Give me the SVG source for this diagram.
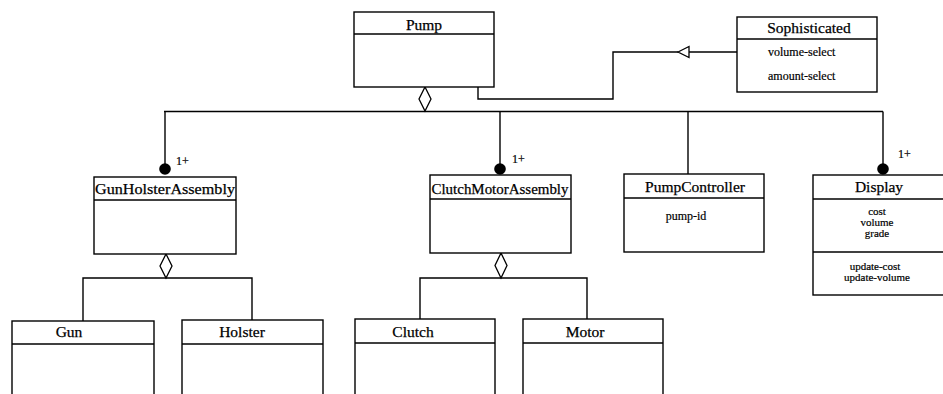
<svg xmlns="http://www.w3.org/2000/svg" width="943" height="394" viewBox="0 0 943 394">
<style>
.box{fill:#fff;stroke:#000;stroke-width:1.4}
.ln{fill:none;stroke:#000;stroke-width:1.4}
.dia{fill:#fff;stroke:#000;stroke-width:1.3}
.dot{fill:#000}
text{font-family:"Liberation Serif","DejaVu Serif","Times New Roman",serif;fill:#000}
.t{font-size:15.5px;stroke:#000;stroke-width:0.25;text-anchor:middle}
.s{font-size:12px;stroke:#000;stroke-width:0.2}
.d{font-size:11px;stroke:#000;stroke-width:0.2;text-anchor:middle}
.m{text-anchor:middle}
</style>
<rect width="943" height="394" fill="#fff"/>
<g id="connectors">
  <line class="ln" x1="164" y1="111.5" x2="883" y2="111.5"/>
  <line class="ln" x1="165" y1="111.5" x2="165" y2="164"/>
  <line class="ln" x1="500" y1="111.5" x2="500" y2="164"/>
  <line class="ln" x1="688" y1="111.5" x2="688" y2="174"/>
  <line class="ln" x1="883" y1="111.5" x2="883" y2="164"/>
  <polygon class="dia" points="425,87 431,99 425,111 419,99"/>
  <circle class="dot" cx="165" cy="169" r="5.8"/>
  <circle class="dot" cx="500" cy="169" r="5.8"/>
  <circle class="dot" cx="883" cy="169" r="5.8"/>
  <text class="s" x="176" y="165">1+</text>
  <text class="s" x="512" y="163">1+</text>
  <text class="s" x="898" y="158">1+</text>
  <polyline class="ln" points="478,87 478,99 613,99 613,52 678,52"/>
  <line class="ln" x1="689" y1="52" x2="737" y2="52"/>
  <polygon class="dia" points="678,52 689,46.5 689,57.5"/>
  <polyline class="ln" points="83,321 83,278 252,278 252,320"/>
  <polygon class="dia" points="166,254 172,266 166,278 160,266"/>
  <polyline class="ln" points="420,319 420,278 587,278 587,319"/>
  <polygon class="dia" points="501,253 507,265.5 501,278 495,265.5"/>
</g>
<g id="pump">
  <rect class="box" x="354" y="12" width="140" height="75"/>
  <line class="ln" x1="354" y1="34" x2="494" y2="34"/>
  <text class="t" x="424" y="30">Pump</text>
</g>
<g id="sophisticated">
  <rect class="box" x="737" y="17" width="140" height="75"/>
  <line class="ln" x1="737" y1="39" x2="877" y2="39"/>
  <text class="t" x="809" y="33">Sophisticated</text>
  <text class="s" x="768" y="56">volume-select</text>
  <text class="s" x="768" y="80">amount-select</text>
</g>
<g id="gunholsterassembly">
  <rect class="box" x="94" y="177" width="142" height="77"/>
  <line class="ln" x1="94" y1="200" x2="236" y2="200"/>
  <text class="t" x="165" y="194" textLength="140" lengthAdjust="spacingAndGlyphs">GunHolsterAssembly</text>
</g>
<g id="clutchmotorassembly">
  <rect class="box" x="430" y="175" width="141" height="78"/>
  <line class="ln" x1="430" y1="199" x2="571" y2="199"/>
  <text class="t" x="500" y="194" textLength="137" lengthAdjust="spacingAndGlyphs">ClutchMotorAssembly</text>
</g>
<g id="pumpcontroller">
  <rect class="box" x="624" y="174" width="140" height="78"/>
  <line class="ln" x1="624" y1="198" x2="764" y2="198"/>
  <text class="t" x="695" y="192">PumpController</text>
  <text class="s m" x="686" y="220">pump-id</text>
</g>
<g id="display">
  <rect class="box" x="813" y="175" width="140" height="120"/>
  <line class="ln" x1="813" y1="199" x2="953" y2="199"/>
  <line class="ln" x1="813" y1="252" x2="953" y2="252"/>
  <text class="t" x="879" y="192">Display</text>
  <text class="d" x="877" y="215">cost</text>
  <text class="d" x="877" y="226">volume</text>
  <text class="d" x="877" y="237">grade</text>
  <text class="d" x="875" y="270">update-cost</text>
  <text class="d" x="877" y="281">update-volume</text>
</g>
<g id="gun">
  <rect class="box" x="12" y="321" width="142" height="90"/>
  <line class="ln" x1="12" y1="344" x2="154" y2="344"/>
  <text class="t" x="69" y="337">Gun</text>
</g>
<g id="holster">
  <rect class="box" x="182" y="320" width="141" height="90"/>
  <line class="ln" x1="182" y1="344" x2="323" y2="344"/>
  <text class="t" x="242" y="337">Holster</text>
</g>
<g id="clutch">
  <rect class="box" x="355" y="319" width="140" height="90"/>
  <line class="ln" x1="355" y1="343" x2="495" y2="343"/>
  <text class="t" x="413" y="337">Clutch</text>
</g>
<g id="motor">
  <rect class="box" x="523" y="319" width="140" height="90"/>
  <line class="ln" x1="523" y1="343" x2="663" y2="343"/>
  <text class="t" x="585" y="337">Motor</text>
</g>
</svg>
